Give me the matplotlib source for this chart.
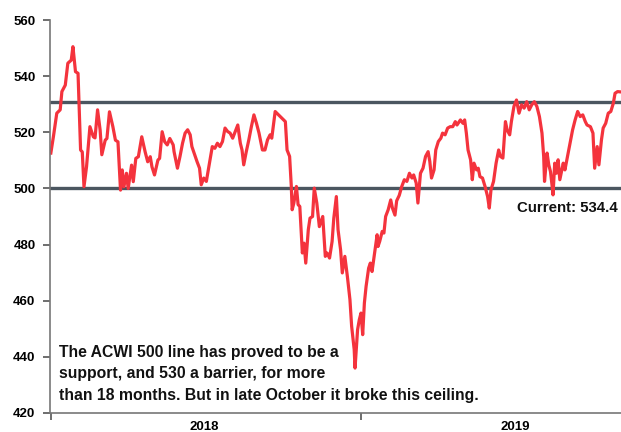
import pandas as pd
import matplotlib.pyplot as plt
import matplotlib.dates as mdates

# Index level: day offsets from 1 Jan 2018 and values
days = [0, 3, 7, 11, 13, 17, 20, 24, 26, 29, 32, 35, 37, 39, 42, 46, 50, 52, 55, 58,
        60, 64, 66, 69, 73, 76, 79, 82, 84, 86, 89, 91, 95, 97, 100, 103, 107, 111, 114, 117,
        119, 122, 126, 128, 131, 134, 137, 140, 144, 145, 149, 152, 155, 158, 161, 164, 166, 170, 172,
        175, 177, 180, 183, 186, 190, 193, 196, 199, 202, 205, 208, 211, 214, 217, 220, 223, 225,
        227, 230, 233, 236, 239, 242, 245, 249, 252, 255, 258, 260, 264, 268, 272, 276,
        278, 281, 283, 284, 286, 289, 291, 293, 296, 298, 300, 303, 305, 308, 310, 313, 316, 318,
        320, 323, 325, 328, 331, 333, 336, 338, 341, 343, 346, 349, 352, 354, 357, 358, 361, 363,
        365, 367, 369, 371, 374, 376, 378, 381, 384, 385, 387, 390, 392, 394, 397, 400, 402, 405,
        407, 410, 413, 416, 419, 422, 425, 427, 430, 432, 435, 438, 441, 444, 446, 448, 451, 453,
        456, 459, 461, 464, 467, 470, 473, 476, 478, 482, 485, 487, 489, 491, 494, 496, 498, 501,
        503, 505, 508, 511, 514, 516, 518, 521, 524, 527, 529, 532, 535, 537, 540, 542, 545, 548,
        551, 554, 557, 560, 563, 566, 569, 572, 575, 578, 580, 581, 584, 586, 588, 590, 591, 593,
        595, 597, 599, 603, 605, 608, 611, 614, 617, 620, 623, 626, 629, 631, 635, 638, 640, 643,
        645, 648, 650, 653, 656, 659, 662, 664, 667, 670]
values = [512.6, 518.4, 526.8, 528.0, 534.5, 536.8, 544.6, 545.7, 550.5, 541.6, 541.0, 513.7, 513.0, 500.6, 507.7, 522.0, 518.4, 518.0, 528.0, 520.8,
          512.0, 517.2, 517.8, 527.3, 522.0, 517.2, 516.6, 499.4, 506.6, 500.6, 505.4, 500.0, 508.3, 502.4, 510.7, 511.3, 518.4, 513.0, 509.5, 511.3,
          507.7, 504.8, 510.1, 510.7, 520.2, 516.6, 515.5, 517.8, 515.5, 513.1, 507.2, 511.4, 516.1, 519.7, 520.9, 519.1, 514.9, 511.4, 509.6,
          507.2, 501.3, 503.7, 502.5, 507.8, 514.9, 514.3, 516.1, 514.9, 516.7, 521.5, 520.3, 519.7, 517.9, 520.3, 522.6, 516.1, 513.7,
          508.4, 513.1, 517.3, 522.0, 526.2, 523.2, 519.7, 513.7, 513.7, 517.3, 519.1, 517.9, 527.4, 526.2, 525.0, 523.8,
          513.7, 511.4, 500.7, 492.4, 494.8, 500.7, 494.2, 493.6, 477.0, 480.5, 473.4, 485.3, 489.4, 490.0, 500.1, 494.8, 486.4, 488.2,
          490.0, 475.8, 477.0, 475.2, 481.1, 489.4, 497.1, 485.3, 478.1, 469.9, 475.8, 468.6, 460.4, 450.9, 442.6, 436.0, 449.7, 453.2,
          455.6, 447.9, 459.2, 465.1, 471.6, 473.4, 470.4, 477.0, 483.5, 479.3, 481.1, 484.7, 484.1, 490.0, 492.4, 495.9, 493.0, 490.5,
          495.6, 497.5, 500.7, 503.1, 502.5, 505.4, 503.7, 504.8, 501.9, 494.8, 505.4, 507.2, 511.4, 513.1, 509.6, 503.7, 506.6, 513.7,
          516.7, 517.9, 519.7, 519.1, 521.5, 522.0, 522.0, 523.8, 522.6, 524.4, 523.2, 524.4, 519.7, 513.7, 510.2, 503.1, 509.0, 506.6,
          507.2, 504.2, 503.7, 500.7, 497.1, 493.0, 499.5, 502.5, 509.0, 513.7, 511.4, 510.8, 523.8, 520.8, 519.1, 523.8, 529.2, 531.5,
          526.8, 529.8, 528.6, 530.9, 528.0, 529.8, 530.9, 529.2, 525.6, 519.7, 511.4, 502.5, 512.6, 508.4, 506.0, 500.7, 497.7, 509.0,
          505.4, 510.2, 503.1, 509.0, 506.6, 511.4, 516.1, 520.8, 524.4, 527.4, 525.6, 526.2, 523.8, 522.6, 522.0, 519.7, 507.2, 514.9,
          508.4, 517.3, 521.5, 523.2, 526.8, 527.4, 530.4, 533.9, 534.5, 534.4]

support = 500
barrier = 530.7
current_label = "Current: 534.4"
note = ("The ACWI 500 line has proved to be a\n"
        "support, and 530 a barrier, for more\n"
        "than 18 months. But in late October it broke this ceiling.")
years = ["2018", "2019"]

dates = pd.Timestamp("2018-01-01") + pd.to_timedelta(days, unit="D")

plt.rcParams['font.family'] = ['Liberation Sans', 'DejaVu Sans']
plt.rcParams['font.weight'] = 'bold'

fig = plt.figure(figsize=(6.21, 4.32), dpi=100)
ax = fig.add_axes([0.0805, 0.044, 0.9195, 0.9097])

grey = '#4b5660'
ax.axhline(barrier, color=grey, lw=2.4, zorder=1)
ax.axhline(support, color=grey, lw=2.4, zorder=1)
ax.plot(dates, values, color='#f4333d', lw=2.3, zorder=2)

ax.set_ylim(420, 560)
ax.set_yticks(range(420, 561, 20))
ax.set_xlim(pd.Timestamp("2017-12-31"), pd.Timestamp("2019-11-03"))

ax.xaxis.set_major_locator(mdates.YearLocator())
ax.xaxis.set_major_formatter(plt.NullFormatter())
ax.xaxis.set_minor_locator(mdates.MonthLocator(bymonth=7))
ax.xaxis.set_minor_formatter(mdates.DateFormatter('%Y'))
ax.tick_params(axis='x', which='minor', length=0, pad=6, labelsize=9.5)
ax.tick_params(axis='x', which='major', length=5, width=1.2, color='#555555')
ax.tick_params(axis='y', length=5, width=1.2, color='#555555', pad=5.5, labelsize=9.5)

for side in ['top', 'right']:
    ax.spines[side].set_visible(False)
for side in ['left', 'bottom']:
    ax.spines[side].set_color('#777777')
    ax.spines[side].set_linewidth(1.2)

ax.text(0.995, 493.2, current_label, transform=ax.get_yaxis_transform(),
        ha='right', va='center', fontsize=10.8, fontweight='bold', color='#111111')
ax.text(0.0155, 444.3, note, transform=ax.get_yaxis_transform(),
        ha='left', va='top', fontsize=11.3, fontweight='bold', color='#111111',
        linespacing=1.55)

plt.savefig("out.png", dpi=100)
